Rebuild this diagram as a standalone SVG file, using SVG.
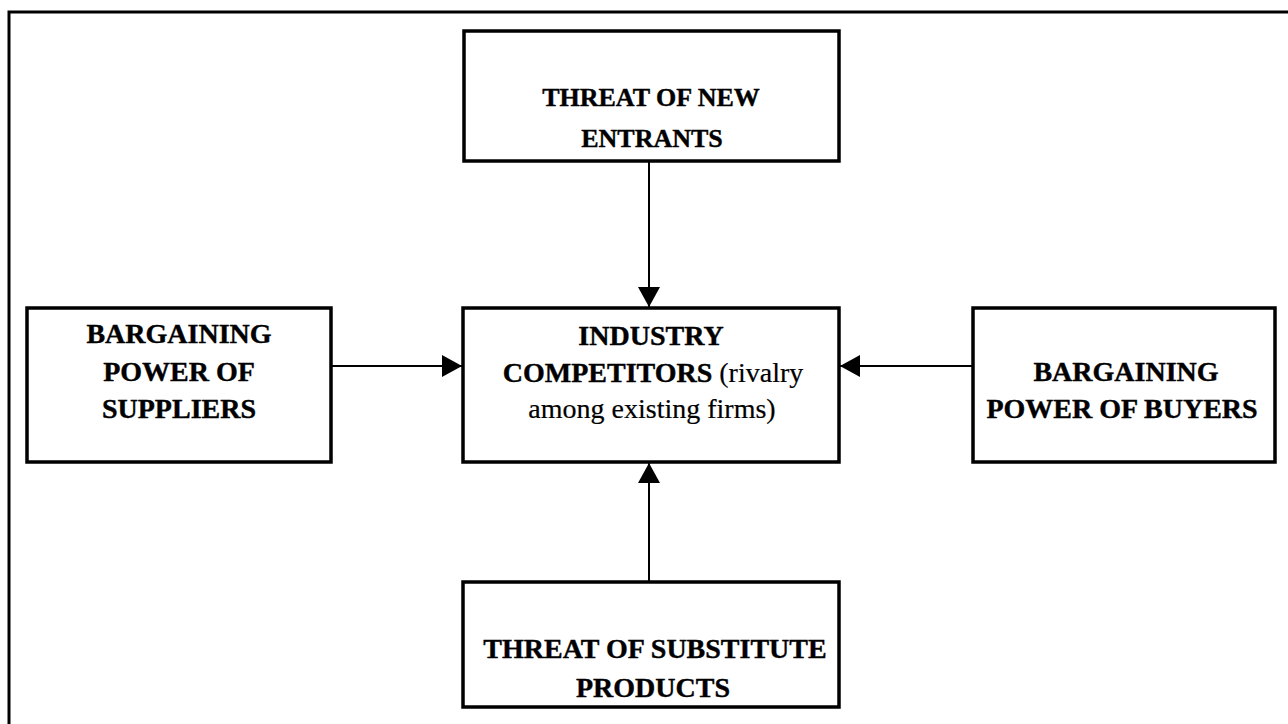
<svg xmlns="http://www.w3.org/2000/svg" width="1288" height="724" viewBox="0 0 1288 724">
<style>
.box{fill:#fff;stroke:#000;stroke-width:3.5}
.frame{fill:none;stroke:#000;stroke-width:3}
.conn{stroke:#000;stroke-width:2;fill:none}
.t{font-family:"Liberation Serif","Times New Roman",serif;font-size:28px;font-weight:bold;fill:#000;stroke:#000;stroke-width:0.4;text-anchor:middle}
.s{font-size:26px}
.n{font-weight:normal;stroke-width:0.2}
</style>
<defs>
<marker id="arr" viewBox="0 0 20 22" refX="20" refY="11" markerWidth="20" markerHeight="22" markerUnits="userSpaceOnUse" orient="auto">
<path d="M0,0 L20,11 L0,22 Z" fill="#000"/>
</marker>
</defs>
<rect width="1288" height="724" fill="#fff"/>
<path class="frame" d="M9,724 L9,12 L1288,12"/>
<g id="connectors">
<line class="conn" x1="649" y1="162" x2="649" y2="307" marker-end="url(#arr)"/>
<line class="conn" x1="331" y1="366" x2="462" y2="366" marker-end="url(#arr)"/>
<line class="conn" x1="973" y1="366" x2="840" y2="366" marker-end="url(#arr)"/>
<line class="conn" x1="649" y1="582" x2="649" y2="463" marker-end="url(#arr)"/>
</g>
<g id="new-entrants">
<rect class="box" x="464" y="31" width="375" height="130"/>
<text class="t s" x="651" y="106">THREAT OF NEW</text>
<text class="t s" x="652" y="147">ENTRANTS</text>
</g>
<g id="suppliers">
<rect class="box" x="27" y="308" width="304" height="154"/>
<text class="t" x="179" y="343">BARGAINING</text>
<text class="t" x="179" y="381">POWER OF</text>
<text class="t" x="179" y="418">SUPPLIERS</text>
</g>
<g id="competitors">
<rect class="box" x="463" y="308" width="376" height="154"/>
<text class="t" x="651" y="345">INDUSTRY</text>
<text class="t" x="653" y="382">COMPETITORS<tspan class="n"> (rivalry</tspan></text>
<text class="t n" x="652" y="418">among existing firms)</text>
</g>
<g id="buyers">
<rect class="box" x="973" y="308" width="302" height="154"/>
<text class="t" x="1126" y="381">BARGAINING</text>
<text class="t" x="1122" y="418">POWER OF BUYERS</text>
</g>
<g id="substitutes">
<rect class="box" x="463" y="582" width="376" height="125"/>
<text class="t" x="655" y="658">THREAT OF SUBSTITUTE</text>
<text class="t" x="653" y="697">PRODUCTS</text>
</g>
</svg>
